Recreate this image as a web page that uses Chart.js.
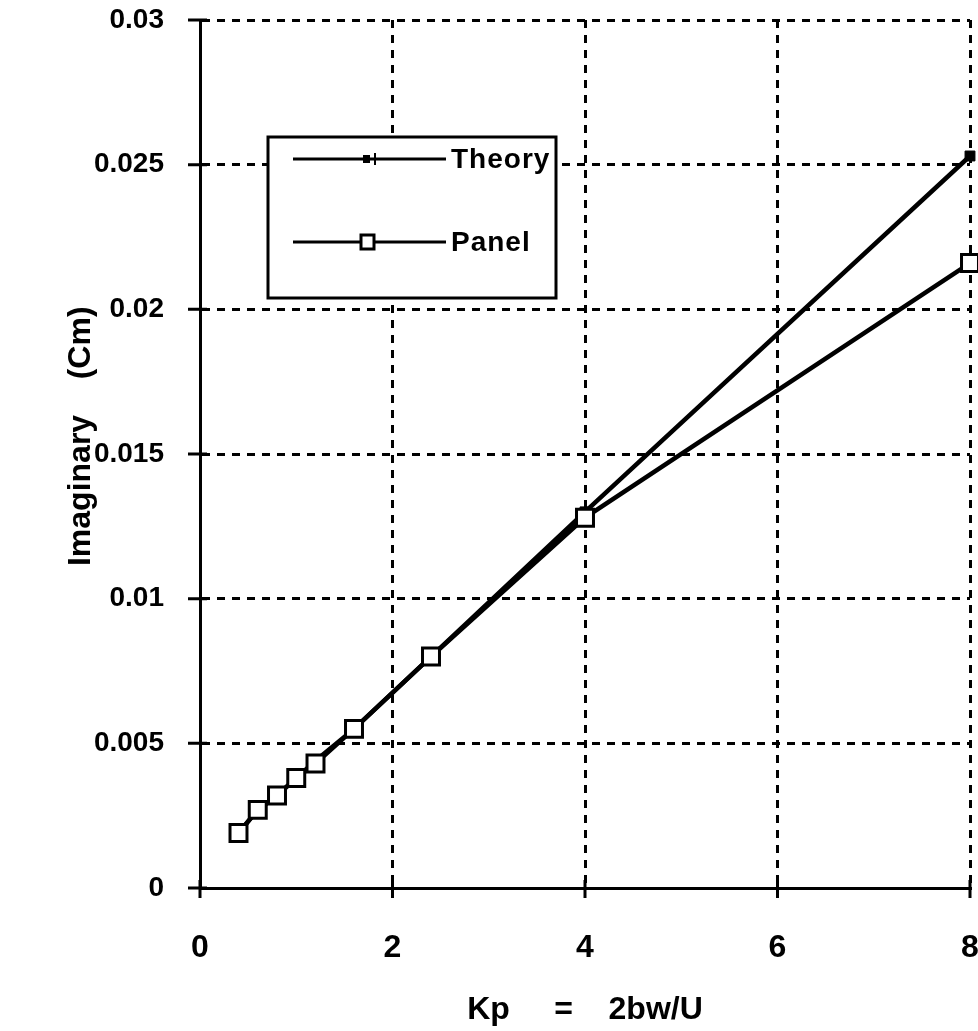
<!DOCTYPE html>
<html>
<head>
<meta charset="utf-8">
<title>Imaginary (Cm) vs Kp</title>
<script src="https://cdn.jsdelivr.net/npm/chart.js@4.4.1/dist/chart.umd.min.js"></script>
<style>
    html, body { margin: 0; padding: 0; background: #fff; }
    #wrap { width: 978px; height: 1031px; }
</style>
</head>
<body>
<div id="wrap"><canvas id="imagChart" width="978" height="1031"></canvas></div>
<script>
// reduced frequency and imaginary moment coefficient
const kp = [0.4, 0.6, 0.8, 1.0, 1.2, 1.6, 2.4, 4, 8];
const theory = [0.0019, 0.0027, 0.0032, 0.0038, 0.0044, 0.0055, 0.0080, 0.0130, 0.0253];
const panel = [0.0019, 0.0027, 0.0032, 0.0038, 0.0043, 0.0055, 0.0080, 0.0128, 0.0216];
const seriesNames = ["Theory", "Panel"];

const xTicks = [0, 2, 4, 6, 8];
const yTicks = [0, 0.005, 0.01, 0.015, 0.02, 0.025, 0.03];
const yTickLabels = ["0", "0.005", "0.01", "0.015", "0.02", "0.025", "0.03"];

const FONT = "'Liberation Sans', Arial, Helvetica, sans-serif";

const toPoints = (ys) => kp.map((x, i) => ({ x: x, y: ys[i] }));

// dashed grid, skip the line sitting on the axis itself
const gridColor = (c) => (c.tick && c.tick.value === 0 ? "rgba(0,0,0,0)" : "#000");

// keep the plot box fixed: no extra room reserved for edge labels
const noEdgePadding = (s) => {
    s.paddingLeft = 0;
    s.paddingRight = 0;
    s.paddingTop = 0;
    s.paddingBottom = 0;
};

// tick marks crossing both axes
const crossTicks = {
    id: "crossTicks",
    afterDraw(chart) {
        const { ctx, scales: { x, y } } = chart;
        ctx.save();
        ctx.strokeStyle = "#000";
        ctx.lineWidth = 3;
        ctx.beginPath();
        xTicks.forEach((v) => {
            const px = x.getPixelForValue(v);
            ctx.moveTo(px, y.bottom - 8);
            ctx.lineTo(px, y.bottom + 10);
        });
        yTicks.forEach((v) => {
            const py = y.getPixelForValue(v);
            ctx.moveTo(x.left - 12, py);
            ctx.lineTo(x.left + 7, py);
        });
        ctx.stroke();
        ctx.restore();
    },
};

// boxed key in the upper left of the plot
const boxLegend = {
    id: "boxLegend",
    afterDatasetsDraw(chart) {
        const ctx = chart.ctx;
        const bx = 268, by = 137, bw = 288, bh = 161;
        ctx.save();
        ctx.fillStyle = "#fff";
        ctx.fillRect(bx, by, bw, bh);
        ctx.strokeStyle = "#000";
        ctx.lineWidth = 3;
        ctx.strokeRect(bx, by, bw, bh);

        const rows = [159, 242];
        chart.data.datasets.forEach((ds, i) => {
            const ly = rows[i];
            ctx.strokeStyle = "#000";
            ctx.lineWidth = 3;
            ctx.beginPath();
            ctx.moveTo(293, ly);
            ctx.lineTo(446, ly);
            ctx.stroke();
            if (ds.label === "Theory") {
                ctx.fillStyle = "#000";
                ctx.fillRect(363, ly - 4, 7, 8);
                ctx.lineWidth = 2;
                ctx.beginPath();
                ctx.moveTo(375, ly - 6);
                ctx.lineTo(375, ly + 6);
                ctx.stroke();
            } else {
                ctx.fillStyle = "#fff";
                ctx.fillRect(361, ly - 7, 13, 14);
                ctx.lineWidth = 3;
                ctx.strokeRect(361, ly - 7, 13, 14);
            }
            ctx.fillStyle = "#000";
            ctx.font = "bold 28px " + FONT;
            ctx.letterSpacing = "1px";
            ctx.textBaseline = "middle";
            ctx.textAlign = "left";
            ctx.fillText(ds.label, 451, ly + 1);
        });
        ctx.restore();
    },
};

new Chart(document.getElementById("imagChart"), {
    type: "line",
    data: {
        datasets: [
            {
                label: seriesNames[0],
                data: toPoints(theory),
                order: 1,
                borderColor: "#000",
                borderWidth: 4.5,
                pointStyle: "rect",
                pointRadius: 7,
                pointBorderWidth: 1,
                pointBackgroundColor: "#000",
                pointBorderColor: "#000",
                tension: 0,
                clip: false,
            },
            {
                label: seriesNames[1],
                data: toPoints(panel),
                order: 0,
                borderColor: "#000",
                borderWidth: 4.5,
                pointStyle: "rect",
                pointRadius: 12,
                pointBorderWidth: 3,
                pointBackgroundColor: "#fff",
                pointBorderColor: "#000",
                tension: 0,
                clip: false,
            },
        ],
    },
    options: {
        responsive: false,
        animation: false,
        events: [],
        layout: { autoPadding: false, padding: { top: 20, right: 8, left: 0, bottom: 0 } },
        plugins: {
            legend: { display: false },
            tooltip: { enabled: false },
        },
        scales: {
            x: {
                type: "linear",
                min: 0,
                max: 8,
                afterBuildTicks: (s) => { s.ticks = xTicks.map((v) => ({ value: v })); },
                afterFit: (s) => { s.height = 143; noEdgePadding(s); },
                ticks: {
                    color: "#000",
                    padding: 0,
                    maxRotation: 0,
                    font: { family: FONT, size: 32, weight: "bold", lineHeight: 3.75 },
                    callback: (v) => String(v),
                },
                grid: { color: gridColor, lineWidth: 3, drawTicks: false },
                border: { display: true, color: "#000", width: 3, dash: [8, 7] },
                title: {
                    display: true,
                    text: "Kp     =    2bw/U",
                    color: "#000",
                    padding: { top: 0, bottom: 2 },
                    font: { family: FONT, size: 32, weight: "bold" },
                },
            },
            y: {
                type: "linear",
                min: 0,
                max: 0.03,
                afterBuildTicks: (s) => { s.ticks = yTicks.map((v) => ({ value: v })); },
                afterFit: (s) => { s.width = 200; noEdgePadding(s); },
                ticks: {
                    color: "#000",
                    padding: 36,
                    font: { family: FONT, size: 28, weight: "bold" },
                    callback: (v) => {
                        const i = yTicks.findIndex((t) => Math.abs(t - v) < 1e-9);
                        return i >= 0 ? yTickLabels[i] : "";
                    },
                },
                grid: { color: gridColor, lineWidth: 3, drawTicks: false },
                border: { display: true, color: "#000", width: 3, dash: [8, 7] },
                title: {
                    display: true,
                    text: "    Imaginary    (Cm)",
                    color: "#000",
                    padding: { top: 62, bottom: 0 },
                    font: { family: FONT, size: 32, weight: "bold" },
                },
            },
        },
    },
    plugins: [crossTicks, boxLegend],
});
</script>
</body>
</html>
